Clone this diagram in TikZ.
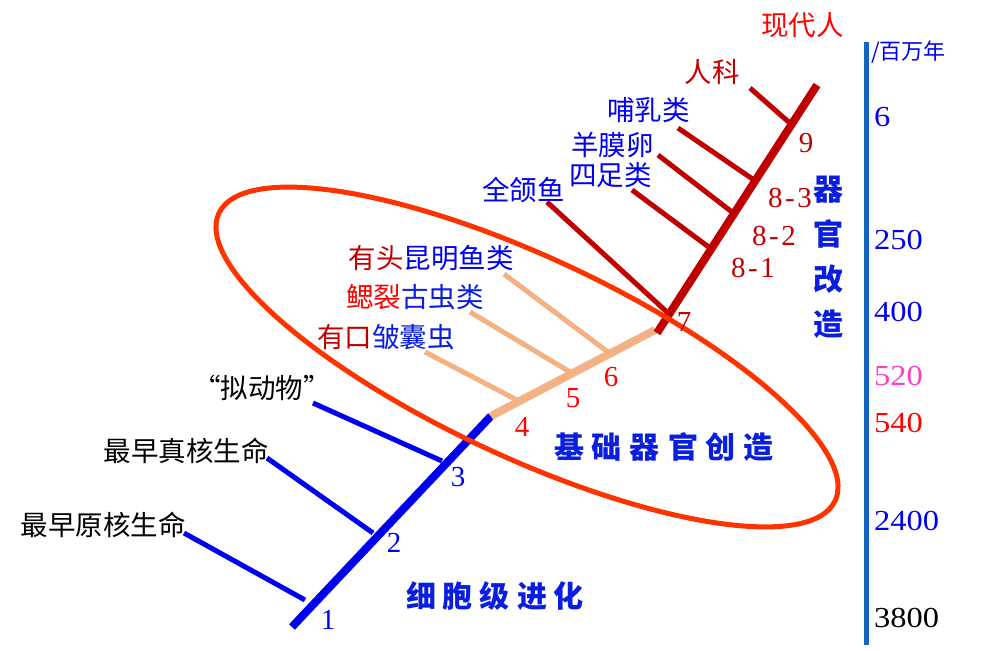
\documentclass[tikz,border=0pt]{standalone}
\usepackage{fontspec}
\setmainfont{Liberation Serif}
\newfontfamily\cjk{Noto Sans CJK SC}
\newfontfamily\wnum[FakeStretch=1.12]{Liberation Serif}
\definecolor{dred}{HTML}{C00000}
\definecolor{bblue}{HTML}{0000F0}
\definecolor{tblue}{HTML}{0A1EE0}
\definecolor{beige}{HTML}{F4B183}
\definecolor{ellc}{HTML}{FF3300}
\definecolor{axisc}{HTML}{1565C0}
\definecolor{mag}{HTML}{FF3FBF}
\definecolor{rred}{HTML}{FF0000}
\begin{document}
\begin{tikzpicture}[x=1pt,y=-1pt,
  trunk/.style={line width=8pt},
  twig/.style={line width=5pt},
  cn/.style={inner sep=0pt, font=\cjk\fontsize{27.5}{28}\selectfont},
  num/.style={inner sep=0pt, font=\fontsize{29}{29}\selectfont},
  big/.style={inner sep=0pt, text=tblue, font=\cjk\bfseries\fontsize{30}{45}\selectfont},
  axl/.style={inner sep=0pt, anchor=west, font=\wnum\fontsize{29}{29}\selectfont}]
\useasboundingbox (0,0) rectangle (994,651);
% coordinates
\coordinate (t1) at (292,627); \coordinate (t4) at (491,416);
\coordinate (a1) at (184,533); \coordinate (e1) at (305,600);
\coordinate (a2) at (267,458); \coordinate (e2) at (373,533);
\coordinate (a3) at (313,403); \coordinate (e3) at (442,461);
\coordinate (t7) at (655,330);
\coordinate (b4s) at (425,352); \coordinate (b4e) at (517,400);
\coordinate (b5s) at (470,312); \coordinate (b5e) at (570,372);
\coordinate (b6s) at (504,274); \coordinate (b6e) at (608,352);
\coordinate (r0) at (657,333); \coordinate (r9) at (817,85);
\coordinate (c7s) at (547,202); \coordinate (c7e) at (668,313);
\coordinate (c81s) at (632,190); \coordinate (c81e) at (710,248);
\coordinate (c82s) at (658,155); \coordinate (c82e) at (732,212);
\coordinate (c83s) at (678,128); \coordinate (c83e) at (754,180);
\coordinate (c9s) at (750,88); \coordinate (c9e) at (792,125);
\coordinate (ax0) at (866,42); \coordinate (ax1) at (866,645);
% blue part
\draw[twig,bblue] (a1) -- (e1);
\draw[twig,bblue] (a2) -- (e2);
\draw[twig,bblue] (a3) -- (e3);
\draw[trunk,bblue] (t1) -- (t4);
% beige part
\draw[twig,beige] (b4s) -- (b4e);
\draw[twig,beige] (b5s) -- (b5e);
\draw[twig,beige] (b6s) -- (b6e);
\draw[trunk,beige] (t4) -- (t7);
% red part
\draw[twig,dred] (c7s) -- (c7e);
\draw[twig,dred] (c81s) -- (c81e);
\draw[twig,dred] (c82s) -- (c82e);
\draw[twig,dred] (c83s) -- (c83e);
\draw[twig,dred] (c9s) -- (c9e);
\draw[trunk,dred] (r0) -- (r9);
% ellipse
\draw[line width=5pt,ellc,rotate around={-25:(527,357)}] (527,357) ellipse [x radius=340, y radius=100];
% time axis
\draw[line width=5pt,axisc] (ax0) -- (ax1);
% labels left
\node[cn,anchor=east] (l1) at (186,525) {最早原核生命};
\node[cn,anchor=east] (l2) at (269,451) {最早真核生命};
\node[cn,anchor=east] (l3) at (331,388) {“拟动物”};
\node[cn,anchor=east] (l4) at (455,337) {\textcolor{dred}{有口}\textcolor{tblue}{皱囊虫}};
\node[cn,anchor=east] (l5) at (484,297) {\textcolor{rred}{鳃裂}\textcolor{tblue}{古虫类}};
\node[cn,anchor=east] (l6) at (514,258) {\textcolor{dred}{有头}\textcolor{bblue}{昆明鱼类}};
\node[cn,anchor=east,text=bblue] (l7) at (565,190) {全颌鱼};
\node[cn,anchor=east,text=bblue] (l81) at (652,175) {四足类};
\node[cn,anchor=east,text=bblue] (l82) at (654,145) {羊膜卵};
\node[cn,anchor=east,text=bblue] (l83) at (690,110) {哺乳类};
\node[cn,anchor=east,text=dred] (l9) at (740,72) {人科};
\node[cn,anchor=east,text=rred] (l10) at (844,25) {现代人};
% numbers
\node[num,text=bblue] (n1) at (328,620) {1};
\node[num,text=bblue] (n2) at (394,543) {2};
\node[num,text=bblue] (n3) at (458,477) {3};
\node[num,text=rred] (n4) at (522,427) {4};
\node[num,text=rred] (n5) at (573,398) {5};
\node[num,text=rred] (n6) at (611,377) {6};
\node[num,text=dred] (n7) at (684,322) {7};
\node[num,text=dred] (n81) at (753,268) {8\kern2.5pt-\kern2.5pt1};
\node[num,text=dred] (n82) at (774,236) {8\kern2.5pt-\kern2.5pt2};
\node[num,text=dred] (n83) at (790,198) {8\kern2.5pt-\kern2.5pt3};
\node[num,text=dred] (n9) at (806,143) {9};
% group labels
\node[big] (g1) at (664,447) {基\hspace{8pt}础\hspace{8pt}器\hspace{8pt}官\hspace{8pt}创\hspace{8pt}造};
\node[big] (g2) at (495,596) {细\hspace{7pt}胞\hspace{7pt}级\hspace{7pt}进\hspace{7pt}化};
\node[big,align=center] (g3) at (828,257) {器\\官\\改\\造};
% axis labels
\node[inner sep=0pt,anchor=west,text=bblue,font=\cjk\fontsize{22}{22}\selectfont] (u) at (871,52) {/百万年};
\node[axl,text=bblue] (y6) at (874,117) {6};
\node[axl,text=bblue] (y250) at (874,240) {250};
\node[axl,text=bblue] (y400) at (874,312) {400};
\node[axl,text=mag] (y520) at (874,376) {520};
\node[axl,text=rred] (y540) at (874,423) {540};
\node[axl,text=bblue] (y2400) at (874,521) {2400};
\node[axl,text=black] (y3800) at (874,618) {3800};
\end{tikzpicture}
\end{document}
